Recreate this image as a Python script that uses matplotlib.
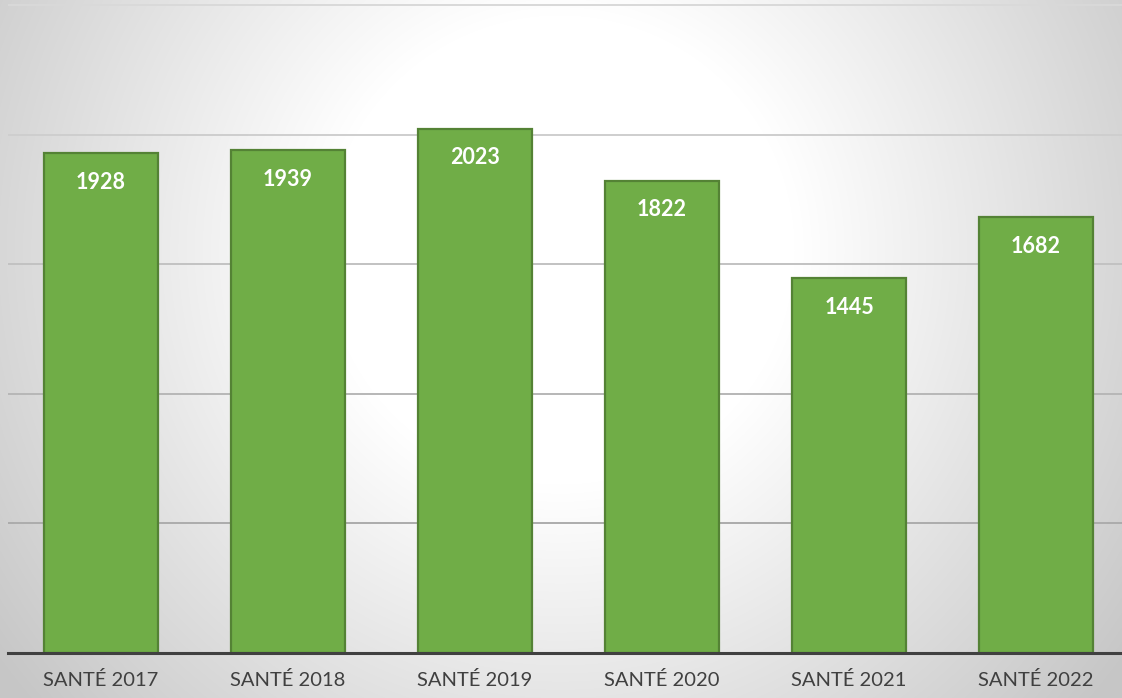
import matplotlib
matplotlib.use("Agg")
import matplotlib.pyplot as plt
import numpy as np

categories = ["SANTÉ 2017", "SANTÉ 2018", "SANTÉ 2019", "SANTÉ 2020", "SANTÉ 2021", "SANTÉ 2022"]
values = [1928, 1939, 2023, 1822, 1445, 1682]
grid_levels = [500, 1000, 1500, 2000, 2500]

W, H, DPI = 1122, 698, 100
BAR_FACE = "#70ad47"
BAR_EDGE = "#548235"

plt.rcParams["font.family"] = ["Lato", "DejaVu Sans"]

fig = plt.figure(figsize=(W / DPI, H / DPI), dpi=DPI)

# soft radial light in the middle, grey towards the edges
bg = fig.add_axes([0, 0, 1, 1], zorder=0)
yy, xx = np.mgrid[0:H, 0:W]
dist = np.hypot(xx - 560, yy - 250)
shade = np.clip(1.0 - 0.00048 * np.clip(dist - 235, 0, None), 0.78, 1.0)
bg.imshow(np.dstack([shade, shade, shade]), aspect="auto", extent=[0, 1, 0, 1])
bg.axis("off")

ax = fig.add_axes([7.5 / W, 45 / H, 1122 / W, 653.2 / H], zorder=1)
ax.patch.set_alpha(0)

x = np.arange(len(categories))
bars = ax.bar(x, values, width=0.605, color=BAR_FACE, edgecolor=BAR_EDGE, linewidth=1.6, zorder=3)

for bar, value in zip(bars, values):
    ax.annotate(
        f"{value}",
        (bar.get_x() + bar.get_width() / 2, bar.get_height()),
        xytext=(0, -29),
        textcoords="offset pixels",
        ha="center",
        va="center",
        color="white",
        fontsize=15.5,
        fontweight="bold",
        zorder=4,
    )

ax.set_xlim(-0.5, len(categories) - 0.5)
ax.set_ylim(0, 2520)

# gridlines get darker towards the bottom, as in the original
top = max(grid_levels)
for level in grid_levels:
    g = 0.63 + 0.22 * (level / top)
    ax.axhline(level, color=(g, g, g), linewidth=1.4, zorder=1)

ax.set_yticks([])
ax.set_xticks(x)
ax.set_xticklabels(categories, fontsize=14.5, color="#404040")
ax.tick_params(axis="x", length=0, pad=13)

for side in ["top", "right", "left"]:
    ax.spines[side].set_visible(False)
ax.spines["bottom"].set_color("#404040")
ax.spines["bottom"].set_linewidth(2.2)
ax.spines["bottom"].set_zorder(5)

fig.savefig("out.png", dpi=DPI)
